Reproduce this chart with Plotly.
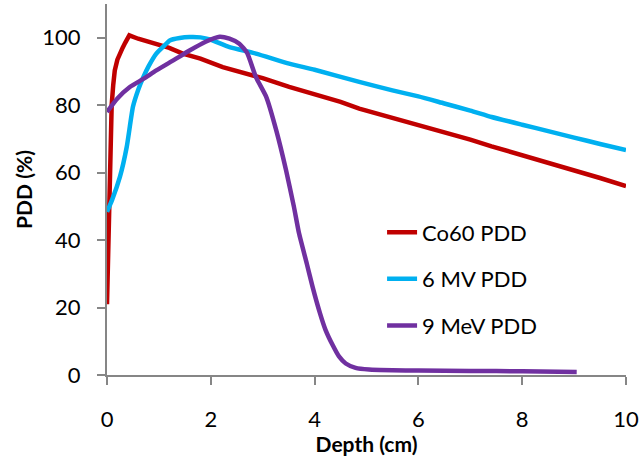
import plotly.graph_objects as go

# Co60 PDD
co60_depth = [0, 0.03, 0.06, 0.09, 0.12, 0.15, 0.2, 0.25, 0.3, 0.35, 0.43, 0.6, 0.8, 1.0, 1.2, 1.46,
              1.8, 2.23, 2.6, 3.0, 3.51, 4.0, 4.5, 4.86, 5.5, 6.0, 6.5, 7.0, 7.41, 8.0, 8.5, 9.0, 9.5, 10]
co60_pdd = [21, 40, 66, 80, 86, 90.3, 93.5, 95.5, 97, 98.5, 100.7, 99.7, 98.8, 97.9, 97, 95.3,
            93.8, 91.3, 89.8, 88, 85.4, 83.3, 81, 79, 76.3, 74.3, 72, 69.8, 67.8, 65.2, 63, 60.7, 58.4, 56]

# 6 MV PDD
mv6_depth = [0, 0.1, 0.25, 0.38, 0.5, 0.6, 0.7, 0.8, 0.95, 1.1, 1.21, 1.4, 1.59, 1.8, 2.0, 2.36,
             2.87, 3.51, 4.0, 4.86, 5.5, 6, 6.5, 7, 7.41, 8, 8.5, 9, 9.5, 10]
mv6_pdd = [48.4, 52, 58.8, 67.6, 79.5, 84.5, 88.3, 91.5, 95.3, 97.6, 99.2, 99.9, 100.2, 100.1, 99.4, 97.2,
           95.3, 92.3, 90.5, 86.9, 84.4, 82.6, 80.5, 78.4, 76.5, 74.2, 72.3, 70.4, 68.5, 66.7]

# 9 MeV PDD
mev9_depth = [0, 0.2, 0.44, 0.7, 0.95, 1.3, 1.59, 1.9, 2.17, 2.36, 2.55, 2.7, 2.87, 3.07, 3.26, 3.45,
              3.6, 3.7, 3.85, 3.96, 4.1, 4.21, 4.35, 4.47, 4.6, 4.79, 5.05, 5.5, 6, 7, 8, 9.05]
mev9_pdd = [78, 82, 85.4, 87.8, 90.3, 93.5, 96.2, 98.8, 100.3, 99.7, 98.2, 95.5, 88.3, 82.4, 72.6, 60.7,
            50, 42, 33, 26.2, 18.5, 13.4, 8.8, 5.5, 3.4, 2.1, 1.6, 1.4, 1.3, 1.2, 1.1, 0.9]

series = [
    ("Co60 PDD", co60_depth, co60_pdd, "#C00000", "linear"),
    ("6 MV PDD", mv6_depth, mv6_pdd, "#00B0F0", "spline"),
    ("9 MeV PDD", mev9_depth, mev9_pdd, "#7030A0", "spline"),
]

FONT = "Lato, Carlito, Calibri, sans-serif"
AXIS_GRAY = "#868686"

fig = go.Figure()
for name, x, y, color, shape in series:
    fig.add_trace(go.Scatter(
        x=x, y=y, name=name, mode="lines", legendgroup=name,
        line=dict(color=color, width=4.5, shape=shape, smoothing=0.5),
    ))

fig.update_layout(
    width=643, height=456,
    margin=dict(l=107, r=15, t=4, b=81),
    paper_bgcolor="white", plot_bgcolor="white",
    font=dict(family=FONT, size=22, color="#000000"),
    showlegend=True,
    legend=dict(
        x=0.53, y=0.441, xanchor="left", yanchor="top",
        bgcolor="rgba(0,0,0,0)", font=dict(size=22),
        tracegroupgap=15, itemwidth=30,
    ),
    xaxis=dict(
        range=[0, 10], dtick=2, tick0=0,
        showline=True, linecolor=AXIS_GRAY, linewidth=2,
        ticks="outside", ticklen=8, tickcolor=AXIS_GRAY, tickwidth=2,
        showgrid=False, zeroline=False, ticklabelstandoff=16,
        title=dict(text="<b>Depth (cm)</b>", font=dict(size=21), standoff=3),
    ),
    yaxis=dict(
        range=[0, 110], tickvals=[0, 20, 40, 60, 80, 100],
        showline=True, linecolor=AXIS_GRAY, linewidth=2,
        ticks="outside", ticklen=8, tickcolor=AXIS_GRAY, tickwidth=2,
        showgrid=False, zeroline=False, ticklabelstandoff=12,
        title=dict(text="<b>PDD (%)</b>", font=dict(size=21), standoff=4),
    ),
)

fig.write_html("out.html")
